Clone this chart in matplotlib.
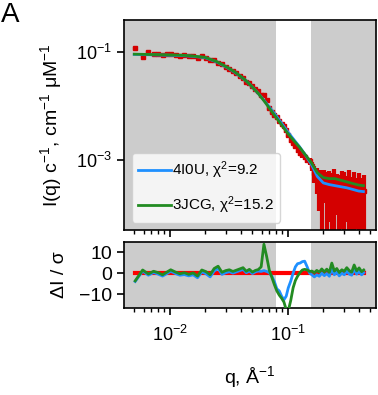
import matplotlib
matplotlib.use('Agg')
import matplotlib.pyplot as plt
import numpy as np

plt.rcParams['font.family'] = ['Liberation Sans', 'DejaVu Sans']
plt.rcParams['mathtext.fontset'] = 'custom'
plt.rcParams['mathtext.rm'] = 'Liberation Sans'
plt.rcParams['mathtext.it'] = 'Liberation Sans:italic'
plt.rcParams['axes.linewidth'] = 1.2

# Experimental data
q_data = [0.0051, 0.0059, 0.0066, 0.0073, 0.0080, 0.0087, 0.0094, 0.0102, 0.0112, 0.0122,
          0.0133, 0.0145, 0.0158, 0.0172, 0.0187, 0.0203, 0.0220, 0.0238, 0.0257, 0.0277,
          0.0298, 0.0320, 0.0343, 0.0367, 0.0392, 0.0418, 0.0445, 0.0473, 0.0502, 0.0532,
          0.0563, 0.0595, 0.0628, 0.0662, 0.0697, 0.0733, 0.0770, 0.0808, 0.0847, 0.0887,
          0.0928, 0.0970, 0.101, 0.106, 0.111, 0.116, 0.121, 0.127, 0.133, 0.139,
          0.146, 0.153, 0.160, 0.168, 0.176, 0.185, 0.194, 0.204, 0.214, 0.225,
          0.236, 0.248, 0.260, 0.273, 0.287, 0.301, 0.316, 0.332, 0.348, 0.365,
          0.383, 0.402, 0.422, 0.440]
I_data = [0.117, 0.081, 0.100, 0.093, 0.091, 0.087, 0.093, 0.091, 0.087, 0.083,
          0.089, 0.083, 0.085, 0.079, 0.083, 0.078, 0.072, 0.071, 0.063, 0.060,
          0.052, 0.049, 0.044, 0.040, 0.0355, 0.033, 0.0282, 0.0263, 0.0229, 0.0209,
          0.0191, 0.0162, 0.0158, 0.0126, 0.0093, 0.0076, 0.0068, 0.0063, 0.0052, 0.0047,
          0.0042, 0.00355, 0.00288, 0.00229, 0.00209, 0.00182, 0.00151, 0.00132, 0.00126, 0.00112,
          0.00100, 0.00093, 0.00076, 0.00058, 0.00047, 0.00038, 0.00033, 0.00040, 0.00030, 0.00035,
          0.00028, 0.00035, 0.00032, 0.00026, 0.00034, 0.00030, 0.00028, 0.00032, 0.00025, 0.00030,
          0.00026, 0.00028, 0.00024, 0.00026]
rel_err = [0.06, 0.05, 0.05, 0.05, 0.05, 0.05, 0.05, 0.05, 0.05, 0.05,
           0.05, 0.05, 0.05, 0.05, 0.05, 0.05, 0.05, 0.05, 0.05, 0.05,
           0.05, 0.05, 0.05, 0.05, 0.06, 0.06, 0.06, 0.06, 0.06, 0.06,
           0.07, 0.07, 0.07, 0.07, 0.08, 0.08, 0.08, 0.08, 0.09, 0.09,
           0.09, 0.10, 0.10, 0.10, 0.11, 0.11, 0.12, 0.12, 0.13, 0.13,
           0.14, 0.15, 0.2, 0.35, 0.5, 0.7, 0.95, 0.6, 0.98, 0.8,
           0.99, 0.9, 0.7, 0.97, 0.85, 0.99, 0.75, 0.98, 0.9, 0.99,
           0.8, 0.99, 0.95, 0.99]

# Model curves
q_fit = [0.00501, 0.00631, 0.00794, 0.0100, 0.0126, 0.0158, 0.0200, 0.0251, 0.0316, 0.0355,
         0.0398, 0.0447, 0.0501, 0.0562, 0.0631, 0.0708, 0.0794, 0.0891, 0.100, 0.112,
         0.126, 0.141, 0.158, 0.178, 0.200, 0.224, 0.251, 0.282, 0.316, 0.355,
         0.398, 0.437]
I_4i0u = [0.0902, 0.0891, 0.0881, 0.0871, 0.0861, 0.0832, 0.0785, 0.0653, 0.0495, 0.0422,
          0.0351, 0.0288, 0.0224, 0.0170, 0.0126, 0.00912, 0.00661, 0.00468, 0.00331, 0.00240,
          0.00174, 0.00123, 0.000832, 0.000490, 0.000372, 0.000347, 0.000331, 0.000316, 0.000302, 0.000282,
          0.000263, 0.000257]
I_3jcg = [0.0912, 0.0902, 0.0891, 0.0881, 0.0871, 0.0841, 0.0794, 0.0661, 0.0501, 0.0427,
          0.0355, 0.0288, 0.0224, 0.0170, 0.0123, 0.00871, 0.00617, 0.00437, 0.00309, 0.00229,
          0.00170, 0.00123, 0.000891, 0.000575, 0.000468, 0.000447, 0.000447, 0.000417, 0.000389, 0.000363,
          0.000339, 0.000331]

# Normalized residuals
res_4i0u = [-4.0, 1.0, -1.0, 0.3, -0.5, -1.4, -0.3, 0.9, -0.2, -1.0,
            -0.7, -1.3, -0.8, -2.2, 0.6, -0.3, -1.8, 1.0, 2.2, -0.6,
            0.2, 0.7, 0.0, 0.6, 1.2, 1.8, 0.2, 1.0, -0.2, 0.6,
            1.0, 0.8, 1.2, 0.8, 0.2, -1.5, -4.0, -7.5, -8.5, -11.0,
            -12.7, -11.0, -7.0, -3.8, 0.0, 3.0, 4.5, 4.8, 5.5, 5.7,
            3.0, 0.0, -0.8, -1.8, -0.8, -1.5, 0.0, -1.2, -0.2, -1.5,
            2.0, -0.8, 0.5, -1.3, 0.0, -0.8, 1.0, -0.5, -1.0, 2.0,
            -0.5, 0.8, -0.8, 0.2]
res_3jcg = [-3.7, 1.5, -0.4, 0.9, 0.2, -0.8, 0.4, 1.6, 0.5, -0.3,
            0.2, -0.6, 0.1, -1.4, 1.5, 0.7, -0.8, 2.2, 3.3, 0.4,
            1.2, 1.6, 0.8, 1.4, 2.0, 2.6, 0.9, 1.8, 0.5, 1.3,
            1.7, 3.0, 13.8, 8.0, 1.5, -2.0, -5.5, -8.5, -10.5, -12.0,
            -13.8, -17.5, -18.0, -13.0, -7.0, -3.5, -1.5, 0.3, 1.5, 1.8,
            1.5, 0.8, 1.0, 0.2, 1.3, 0.5, 2.0, 0.6, 1.9, 0.4,
            4.8, 1.0, 2.2, 0.3, 1.6, 0.9, 2.6, 1.2, 0.5, 3.9,
            1.1, 2.5, 0.7, 1.5]

labels = ['4I0U, χ$^2$=9.2', '3JCG, χ$^2$=15.2']
band = (0.079, 0.157)
gray = '#cccccc'
red = '#d40000'
blue = '#1e90ff'
green = '#228b22'

I_data = np.array(I_data)
err = I_data * np.array(rel_err)

fig = plt.figure(figsize=(3.78, 3.95), dpi=100)
ax1 = fig.add_axes([0.328, 0.418, 0.667, 0.531])
ax2 = fig.add_axes([0.328, 0.220, 0.667, 0.167], sharex=ax1)

for ax in (ax1, ax2):
    ax.set_facecolor(gray)
    ax.axvspan(*band, color='white', lw=0, zorder=0)
    ax.tick_params(which='major', length=5, width=1.2, labelsize=13)
    ax.tick_params(which='minor', length=3, width=1)

ax1.errorbar(q_data, I_data, yerr=err, fmt='s', color=red, ms=3.5, elinewidth=3, capsize=0, zorder=2)
ax1.plot(q_fit, I_4i0u, color=blue, lw=2, label=labels[0], zorder=3)
ax1.plot(q_fit, I_3jcg, color=green, lw=2, label=labels[1], zorder=4)
ax1.set_xscale('log')
ax1.set_yscale('log')
ax1.set_xlim(0.0041, 0.56)
ax1.set_ylim(5e-5, 0.39)
ax1.set_yticks([1e-3, 1e-1])
ax1.yaxis.set_minor_locator(matplotlib.ticker.NullLocator())
ax1.tick_params(labelbottom=False)
ax1.set_ylabel('I(q) c$^{-1}$, cm$^{-1}$ μM$^{-1}$', fontsize=14, labelpad=9)
ax1.legend(loc='lower left', bbox_to_anchor=(0.03, 0.035), borderaxespad=0,
           fontsize=11, handlelength=2.2, handletextpad=0.05, labelspacing=0.9)

ax2.plot([q_data[0], q_data[-1]], [0, 0], color='red', lw=3, zorder=2)
ax2.plot(q_data, res_4i0u, color=blue, lw=2, zorder=3)
ax2.plot(q_data, res_3jcg, color=green, lw=2, zorder=4)
ax2.set_ylim(-16.7, 14.8)
ax2.set_yticks([-10, 0, 10])
ax2.tick_params(axis='y', labelsize=14)
ax2.tick_params(axis='x', pad=7)
ax2.set_ylabel('ΔI / σ', fontsize=14, labelpad=8)
ax2.set_xlabel('q, Å$^{-1}$', fontsize=14, labelpad=14)

fig.text(0.003, 0.995, 'A', fontsize=20, va='top', ha='left')

fig.savefig('out.png', dpi=100)
